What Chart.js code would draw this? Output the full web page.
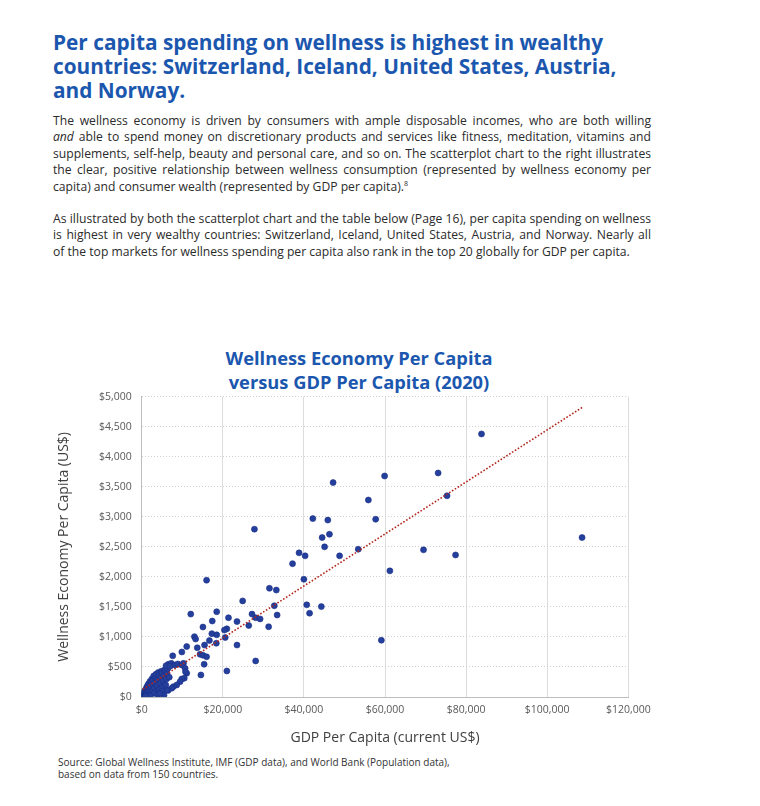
<!DOCTYPE html>
<html>
<head>
<meta charset="utf-8">
<script src="https://cdn.jsdelivr.net/npm/chart.js@4.4.0/dist/chart.umd.min.js"></script>
<style>
html,body{margin:0;padding:0;background:#fff;}
body{width:760px;height:806px;position:relative;overflow:hidden;font-family:"Open Sans",sans-serif;}
#heading{position:absolute;left:53px;top:30px;color:#1b57ae;font-weight:700;font-size:20px;line-height:24px;white-space:nowrap;}
.para{position:absolute;left:53px;width:598px;color:#2b2b2b;font-size:11.5px;line-height:16.5px;}
.para div{text-align:justify;text-align-last:justify;}
.para div.last{text-align-last:left;}
.para sup{font-size:7px;line-height:0;vertical-align:5px;}
#p1{top:112.5px;}
#p2{top:210.5px;}
#ctitle{position:absolute;left:0;width:718px;top:346px;text-align:center;color:#1b57ae;font-weight:700;font-size:18px;line-height:24px;}
#chartbox{position:absolute;left:0;top:380px;width:760px;height:370px;}
#source{position:absolute;left:58px;top:756px;color:#333;font-size:10px;line-height:12px;}
</style>
</head>
<body>
<div id="heading"><div id="h1">Per capita spending on wellness is highest in wealthy</div><div>countries: Switzerland, Iceland, United States, Austria,</div><div>and Norway.</div></div>
<div class="para" id="p1">
<div class="jl">The wellness economy is driven by consumers with ample disposable incomes, who are both willing</div>
<div class="jl"><i>and</i> able to spend money on discretionary products and services like fitness, meditation, vitamins and</div>
<div class="jl">supplements, self-help, beauty and personal care, and so on. The scatterplot chart to the right illustrates</div>
<div class="jl">the clear, positive relationship between wellness consumption (represented by wellness economy per</div>
<div class="last">capita) and consumer wealth (represented by GDP per capita).<sup>8</sup></div>
</div>
<div class="para" id="p2">
<div class="jl">As illustrated by both the scatterplot chart and the table below (Page 16), per capita spending on wellness</div>
<div class="jl">is highest in very wealthy countries: Switzerland, Iceland, United States, Austria, and Norway. Nearly all</div>
<div class="last" id="plast">of the top markets for wellness spending per capita also rank in the top 20 globally for GDP per capita.</div>
</div>
<div id="ctitle"><div id="ct1">Wellness Economy Per Capita</div><div>versus GDP Per Capita (2020)</div></div>
<div id="chartbox"><canvas id="c"></canvas></div>
<div id="source">Source: Global Wellness Institute, IMF (GDP data), and World Bank (Population data),<br>based on data from 150 countries.</div>
<script>
// ---- data ----
const gdpPerCapita = [
  83800,73100,59900,47200,75300,55900,42200,45900,57700,27800,46300,44500,108600,45100,53400,69500,38800,40300,48800,77400,
  37200,61200,16000,40000,31500,33200,24900,32700,40700,44300,41400,33400,12100,18500,27200,28100,29200,21400,17400,23500,
  15100,26400,31300,21000,20400,17300,18500,13000,13300,20600,16700,15500,18400,59100,23500,11100,13700,9900,7650,14400,
  15100,16000,28100,15400,21000,14600,
  6570,6990,7300,8220,8900,9880,10300,10700,11100,10800,10500,9870,9460,8640,7800,7400,6500,6170,
  250,320,400,450,520,600,650,700,780,850,900,950,1050,1100,1200,1250,1350,1450,1500,1600,
  1700,1750,1850,1950,2050,2150,2250,2400,2500,2600,2750,2850,2950,3100,3250,3400,3500,3650,3800,3950,
  4100,4250,4400,4550,4700,4850,5000,5150,5300,5450,5600,5800,5950,6100,6250,6400,
  3000,4000,5000,2000,1000,6000,7000,6800,5500,4500
];
const wellnessPerCapita = [
  4380,3730,3680,3570,3350,3280,2970,2945,2960,2795,2710,2655,2655,2500,2460,2450,2400,2350,2350,2365,
  2220,2100,1945,1960,1810,1780,1600,1520,1535,1505,1395,1365,1380,1420,1380,1320,1300,1320,1265,1255,
  1165,1190,1170,1135,1115,1055,1035,1005,965,990,940,865,895,945,865,840,820,750,685,710,
  695,670,600,545,433,367,
  545,533,560,533,550,533,560,478,395,420,312,300,255,200,172,145,110,117,
  10,25,60,15,35,90,20,50,100,30,75,120,45,100,160,60,130,190,85,170,
  220,50,120,210,260,80,160,250,300,110,200,280,350,150,240,320,380,90,190,290,
  410,360,130,230,330,430,400,170,270,360,450,440,200,300,390,470,
  60,40,100,20,10,520,510,330,30,60
];
const trendGdp = [300, 108600];
const trendWellness = [128, 4820];
const xTickValues = [0,20000,40000,60000,80000,100000,120000];
const yTickValues = [0,500,1000,1500,2000,2500,3000,3500,4000,4500,5000];

// ---- fit text widths ----
const mctx = document.createElement('canvas').getContext('2d');
function tw(text, font){ mctx.font = font; return mctx.measureText(text).width; }
(function fitText(){
  const ff = '"Open Sans"';
  const h1 = document.getElementById('h1').textContent;
  const hw = tw(h1, '700 20px ' + ff);
  document.getElementById('heading').style.fontSize = (20 * 550 / hw).toFixed(2) + 'px';
  const lastW = tw(document.getElementById('plast').textContent, '400 12px ' + ff);
  let maxJ = 0;
  document.querySelectorAll('.para .jl').forEach(d => { maxJ = Math.max(maxJ, tw(d.textContent, '400 12px ' + ff)); });
  const s = Math.min(12 * 589 / lastW, 12 * 596 / maxJ);
  document.querySelectorAll('.para').forEach(p => p.style.fontSize = s.toFixed(2) + 'px');
  const cw = tw(document.getElementById('ct1').textContent, '700 18px ' + ff);
  document.getElementById('ctitle').style.fontSize = (18 * 267 / cw).toFixed(2) + 'px';
})();

const scatterPts = gdpPerCapita.map((x, i) => ({x: x, y: wellnessPerCapita[i]}));
const trendPts = trendGdp.map((x, i) => ({x: x, y: trendWellness[i]}));
const money = v => '$' + Number(v).toLocaleString('en-US');

new Chart(document.getElementById('c'), {
  type: 'scatter',
  data: {
    datasets: [
      {
        type: 'line', data: trendPts, order: 0,
        borderColor: '#b3261e', borderWidth: 1.6, borderDash: [1.6, 1.8],
        pointRadius: 0, fill: false, tension: 0
      },
      {
        data: scatterPts, order: 1,
        backgroundColor: '#24409c', borderColor: '#1b2f86', borderWidth: 0.6,
        pointRadius: 3
      }
    ]
  },
  options: {
    responsive: true, maintainAspectRatio: false, animation: false,
    devicePixelRatio: 1,
    layout: { padding: { left: 50, right: 131.7, top: 16.7, bottom: 0 } },
    plugins: { legend: { display: false }, tooltip: { enabled: false }, title: { display: false } },
    scales: {
      x: {
        type: 'linear', min: 0, max: 120000,
        afterBuildTicks: s => { s.ticks = xTickValues.map(v => ({value: v})); },
        afterFit: s => { s.height = 53; },
        ticks: { callback: money, color: '#595959', font: { family: '"Open Sans"', size: 10.5 }, padding: 7, maxRotation: 0 },
        grid: { color: '#dcdcdc', lineWidth: 1, drawTicks: false },
        border: { display: true, color: '#bdbdbd', width: 1 },
        title: { display: true, text: 'GDP Per Capita (current US$)', color: '#404040',
                 font: { family: '"Open Sans"', size: 14 }, padding: { top: 0, bottom: 3.6 } }
      },
      y: {
        type: 'linear', min: 0, max: 5000,
        afterBuildTicks: s => { s.ticks = yTickValues.map(v => ({value: v})); },
        afterFit: s => { s.width = 91.7; },
        ticks: { callback: money, color: '#595959', font: { family: '"Open Sans"', size: 10.5 }, padding: 10 },
        grid: { color: '#cfcfcf', lineWidth: 1, drawTicks: false },
        border: { display: true, color: '#bdbdbd', width: 1, dash: [1, 2] },
        title: { display: true, text: 'Wellness Economy Per Capita (US$)', color: '#404040',
                 font: { family: '"Open Sans"', size: 14 }, padding: { top: 5.6, bottom: 0 } }
      }
    }
  }
});
</script>
</body>
</html>
